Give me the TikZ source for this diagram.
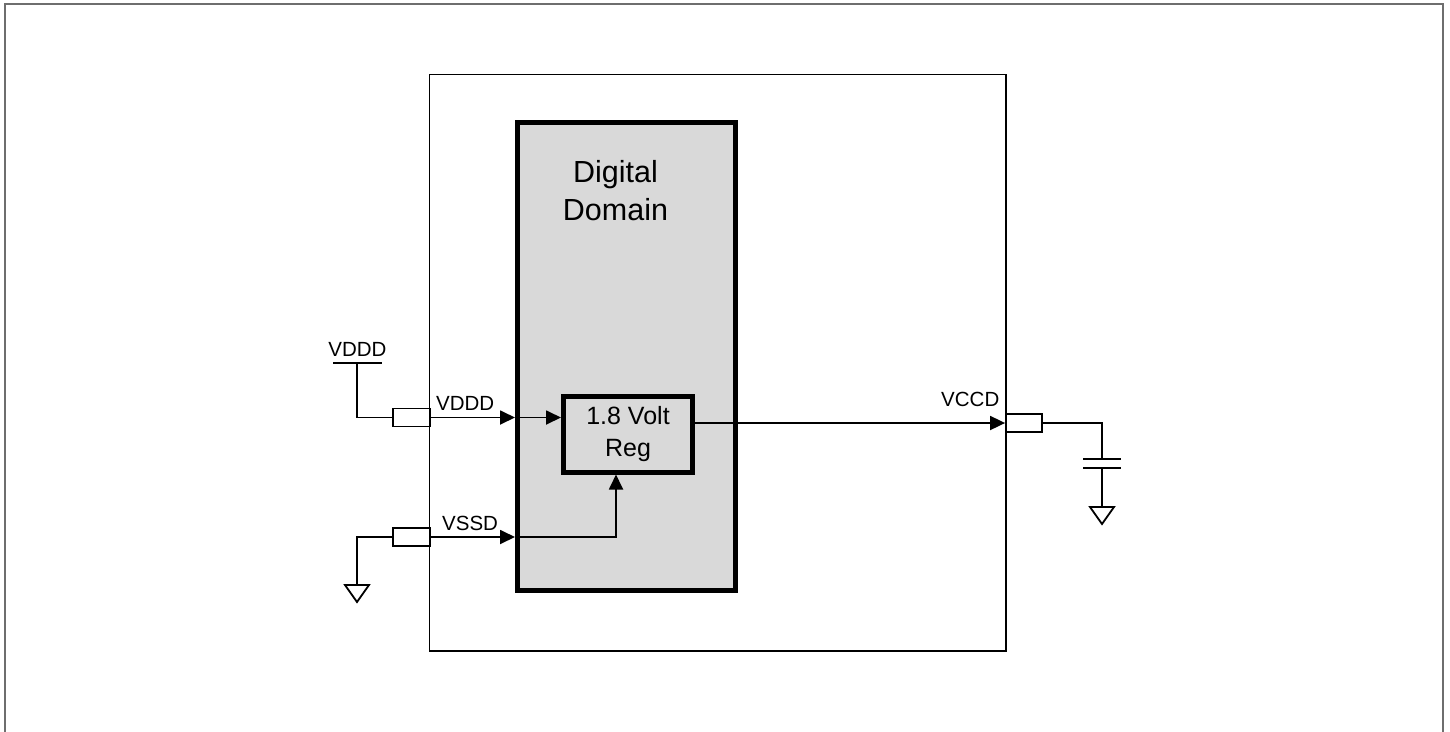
\documentclass[tikz,border=0pt]{standalone}
\usepackage{fontspec}
\setmainfont{Liberation Sans}
\usetikzlibrary{arrows.meta,calc}
\definecolor{domfill}{HTML}{D9D9D9}
\definecolor{framegray}{HTML}{6E6E6E}
\begin{document}
\begin{tikzpicture}[x=1pt,y=-1pt,
  wire/.style={line width=1.8pt},
  arr/.style={wire,-{Triangle[length=15pt,width=14pt]}},
  pinbox/.style={draw,line width=1.8pt,minimum width=37pt,minimum height=18pt,inner sep=0pt,fill=white},
  lbl/.style={font=\fontsize{20.5}{24}\selectfont,inner sep=0pt},
  gnd/.pic={\draw[wire,line join=miter] (-12,0) -- (12,0) -- (0,17) -- cycle;}
]
\useasboundingbox (0,0) rectangle (1450,731);
% outer frame
\draw[framegray,line width=2pt] (5,740) -- (5,3.5) -- (1443,3.5) -- (1443,740);
% chip
\node[draw,line width=1.8pt,minimum width=576.5pt,minimum height=576.5pt,inner sep=0pt] (chip) at (717.75,362.75) {};
% digital domain
\node[draw,fill=domfill,line width=5pt,minimum width=218pt,minimum height=468pt,inner sep=0pt] (domain) at (626.5,356.5) {};
\node[align=center,inner sep=0pt,font=\fontsize{30.5}{37.3}\selectfont] (domtxt) at (615.5,190.6) {Digital\\Domain};
% regulator
\node[draw,fill=domfill,line width=5pt,minimum width=129pt,minimum height=75.5pt,inner sep=0pt,align=center,font=\fontsize{25}{32}\selectfont] (reg) at (628,434.25) {1.8 Volt\\Reg};
% pins
\node[pinbox] (vdddpin) at (411.5,417.5) {};
\node[pinbox] (vssdpin) at (411.5,537) {};
\node[pinbox,minimum width=36pt] (vccdpin) at (1024,423) {};
% VDDD supply
\coordinate (vddtop) at (357,363);
\draw[wire] (333,363) -- (382,363);
\draw[wire] (vdddpin.west) -| (vddtop);
\node[lbl,anchor=base] (vdddsup) at (357.5,356) {VDDD};
% VDDD arrows
\draw[arr] (vdddpin.east) -- (vdddpin.east -| domain.west);
\draw[arr] (vdddpin.east -| domain.west) -- (vdddpin.east -| reg.west);
\node[lbl,anchor=base west] (vdddlbl) at (436,410) {VDDD};
% VSSD ground
\coordinate (gnd1) at (357,585);
\draw[wire] (vssdpin.west) -| (gnd1);
\pic at (gnd1) {gnd};
% VSSD arrows
\coordinate (bend) at (616,537);
\draw[arr] (vssdpin.east) -- (vssdpin.east -| domain.west);
\draw[arr] (vssdpin.east -| domain.west) -- (bend) -- (bend |- reg.south);
\node[lbl,anchor=base west] (vssdlbl) at (442,530) {VSSD};
% VCCD output
\draw[arr] (vccdpin.west -| reg.east) -- (vccdpin.west);
\node[lbl,anchor=base east] (vccdlbl) at (999.5,406) {VCCD};
% capacitor
\coordinate (captop) at (1102,459);
\coordinate (capbot) at (1102,468);
\coordinate (gnd2) at (1102,507);
\draw[wire] (vccdpin.east) -| (captop);
\draw[wire] (1083,459) -- (1121,459);
\draw[wire] (1083,468) -- (1121,468);
\draw[wire] (capbot) -- (gnd2);
\pic at (gnd2) {gnd};
\end{tikzpicture}
\end{document}
